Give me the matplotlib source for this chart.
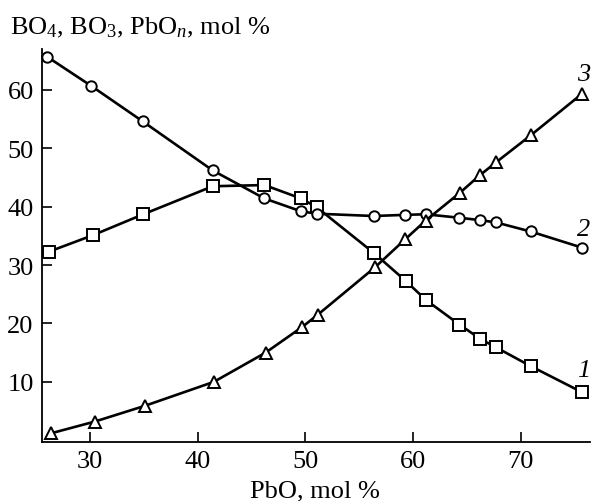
import numpy as np
import matplotlib
matplotlib.use('Agg')
import matplotlib.pyplot as plt

plt.rcParams['font.family'] = 'Liberation Serif'
plt.rcParams['mathtext.fontset'] = 'custom'
plt.rcParams['mathtext.rm'] = 'Liberation Serif'
plt.rcParams['mathtext.it'] = 'Liberation Serif:italic'

# curve 1: BO4 (squares)
x_bo4 = [26.2, 30.25, 34.95, 41.4, 46.2, 49.6, 51.05, 56.4, 59.3, 61.2, 64.3, 66.2, 67.7, 70.9, 75.7]
y_bo4 = [32.3, 35.1, 38.7, 43.5, 43.7, 41.4, 39.9, 32.0, 27.3, 24.0, 19.8, 17.4, 15.9, 12.7, 8.2]

# curve 2: BO3 (circles)
x_bo3 = [26.0, 30.1, 34.9, 41.4, 46.2, 49.6, 51.05, 56.35, 59.25, 61.15, 64.3, 66.2, 67.7, 70.9, 75.65]
y_bo3 = [65.7, 60.7, 54.6, 46.2, 41.4, 39.2, 38.8, 38.4, 38.6, 38.7, 38.1, 37.7, 37.3, 35.75, 33.0]

# curve 3: PbOn (triangles)
x_pbo = [26.4, 30.45, 35.1, 41.5, 46.3, 49.7, 51.15, 56.45, 59.25, 61.15, 64.35, 66.2, 67.7, 70.9, 75.65]
y_pbo = [1.2, 3.2, 5.9, 10.0, 15.0, 19.4, 21.5, 29.6, 34.4, 37.6, 42.4, 45.4, 47.6, 52.2, 59.3]

fig = plt.figure(figsize=(5.97, 5.02), dpi=100)
ax = fig.add_axes([0.0704, 0.1175, 0.9176, 0.7829])

mk = dict(color='black', linewidth=1.9, markerfacecolor='white',
          markeredgecolor='black', markeredgewidth=1.4, clip_on=False)
ax.plot(x_bo4, y_bo4, marker='s', markersize=8, **mk)
ax.plot(x_bo3, y_bo3, marker='o', markersize=7.5, **mk)
ax.plot(x_pbo, y_pbo, marker='^', markersize=9, **mk)

ax.text(76.4, 12.0, '1', fontsize=19, style='italic', ha='right', va='center')
ax.text(76.4, 36.2, '2', fontsize=19, style='italic', ha='right', va='center')
ax.text(76.4, 62.8, '3', fontsize=19, style='italic', ha='right', va='center')

ax.set_xlim(25.55, 76.4)
ax.set_ylim(-0.3, 67)
ax.set_xticks([30, 40, 50, 60, 70])
ax.set_yticks([10, 20, 30, 40, 50, 60])
ax.tick_params(direction='in', length=7, width=1.2, labelsize=19, pad=6)
ax.spines['top'].set_visible(False)
ax.spines['right'].set_visible(False)
ax.spines['left'].set_linewidth(1.3)
ax.spines['bottom'].set_linewidth(1.3)

fig.text(0.017, 0.945, r'BO$_4$, BO$_3$, PbO$_n$, mol %', fontsize=19, ha='left', va='center')
fig.text(0.528, 0.022, 'PbO, mol %', fontsize=19, ha='center', va='center')

fig.savefig('out.png', dpi=100)
